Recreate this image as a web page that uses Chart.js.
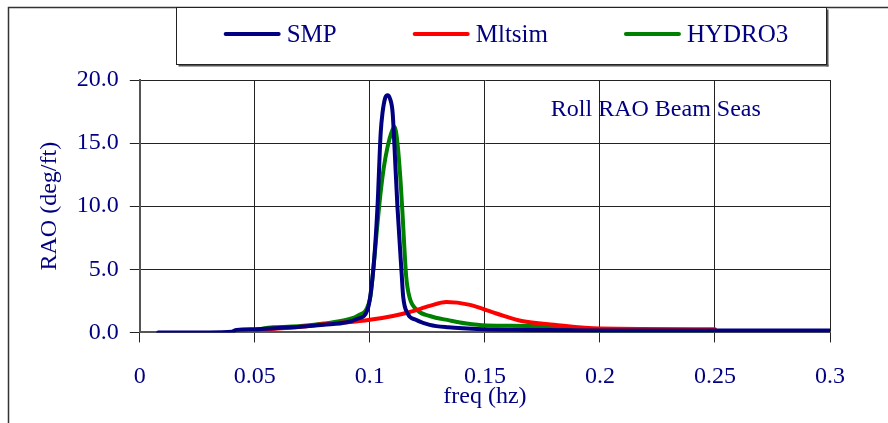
<!DOCTYPE html>
<html lang="en">
<head>
    <meta charset="UTF-8">
    <title>Roll RAO Beam Seas</title>
    <style>
        body {
            margin: 0;
            padding: 0;
            background: #fff;
        }
        canvas {
            display: block;
        }
    </style>
</head>
<body>
    <canvas id="raoChart" width="888" height="423"></canvas>

    <script src="https://cdn.jsdelivr.net/npm/chart.js"></script>
    <script>
        // Data (freq in hz, RAO in deg/ft)
        const seriesNames = ['SMP', 'Mltsim', 'HYDRO3'];

        const freqSMP = [0.008, 0.02, 0.03, 0.04, 0.042, 0.05, 0.06, 0.07, 0.08, 0.09, 0.095, 0.099,
            0.1016, 0.1033, 0.1047, 0.1055, 0.1067, 0.1077, 0.1088, 0.1099, 0.1107, 0.112,
            0.1138, 0.1145, 0.1164, 0.12, 0.126, 0.134, 0.149, 0.17, 0.2, 0.25, 0.3];
        const raoSMP = [0, 0, 0, 0.05, 0.2, 0.25, 0.35, 0.45, 0.6, 0.8, 1.1, 1.8,
            5.2, 9.9, 15.8, 17.4, 18.6, 18.8, 18.5, 17.4, 14.7, 9.9,
            4.7, 2.8, 1.5, 1.0, 0.6, 0.4, 0.25, 0.2, 0.15, 0.15, 0.15];

        const freqMltsim = [0.05, 0.06, 0.07, 0.0825, 0.09, 0.1, 0.11, 0.117, 0.1225, 0.126, 0.1333,
            0.143, 0.155, 0.166, 0.18, 0.2, 0.25];
        const raoMltsim = [0.2, 0.3, 0.45, 0.7, 0.8, 1.0, 1.3, 1.6, 1.9, 2.1, 2.4,
            2.2, 1.5, 0.9, 0.6, 0.3, 0.25];

        const freqHydro3 = [0.05, 0.058, 0.07, 0.08, 0.09, 0.095, 0.1, 0.1015, 0.103, 0.1045, 0.106,
            0.1077, 0.1093, 0.1107, 0.112, 0.1133, 0.1142, 0.115, 0.1158, 0.1172, 0.1207, 0.126,
            0.1346, 0.142, 0.1507, 0.1706, 0.1854, 0.2, 0.25];
        const raoHydro3 = [0.2, 0.4, 0.5, 0.7, 1.0, 1.35, 2.6, 5.0, 8.0, 10.8, 13.0,
            14.7, 15.8, 16.3, 15.0, 12.1, 9.4, 6.7, 4.4, 2.8, 1.75, 1.3,
            0.95, 0.7, 0.55, 0.5, 0.3, 0.15, 0.15];

        const xTickLabels = ['0', '0.05', '0.1', '0.15', '0.2', '0.25', '0.3'];
        const yTickLabels = ['0.0', '5.0', '10.0', '15.0', '20.0'];

        const navy = '#000080';
        const fontFamily = '"Liberation Serif", "Times New Roman", serif';

        function toPoints(xs, ys) {
            return xs.map((x, i) => ({ x: x, y: ys[i] }));
        }

        // frame round the whole chart, legend box and the note inside the plot
        const decorations = {
            id: 'decorations',
            beforeDraw(chart) {
                const ctx = chart.ctx;
                ctx.save();
                ctx.fillStyle = '#fff';
                ctx.fillRect(0, 0, chart.width, chart.height);
                ctx.strokeStyle = '#333';
                ctx.lineWidth = 1.5;
                ctx.beginPath();
                ctx.moveTo(8.5, chart.height);
                ctx.lineTo(8.5, 7.5);
                ctx.lineTo(chart.width, 7.5);
                ctx.stroke();
                ctx.restore();
            },
            afterDraw(chart) {
                const ctx = chart.ctx;
                const area = chart.chartArea;
                ctx.save();

                // legend box with a small shadow
                const bx = 176.5, by = 7.5, bw = 650, bh = 57;
                ctx.fillStyle = '#555';
                ctx.fillRect(bx + 2, by + bh, bw, 2);
                ctx.fillRect(bx + bw, by + 2, 2, bh);
                ctx.fillStyle = '#fff';
                ctx.fillRect(bx, by, bw, bh);
                ctx.strokeStyle = '#222';
                ctx.lineWidth = 1;
                ctx.strokeRect(bx, by, bw, bh);

                ctx.font = '25px ' + fontFamily;
                ctx.textBaseline = 'middle';
                ctx.textAlign = 'left';
                const swatch = 57, gapText = 6, gapItem = 76;
                const widths = chart.data.datasets.map(ds => swatch + gapText + ctx.measureText(ds.label).width);
                const total = widths.reduce((a, b) => a + b, 0) + gapItem * (widths.length - 1);
                let x = 506 - total / 2;
                const ly = 34;
                chart.data.datasets.forEach((ds, i) => {
                    ctx.strokeStyle = ds.borderColor;
                    ctx.lineWidth = 4;
                    ctx.lineCap = 'round';
                    ctx.beginPath();
                    ctx.moveTo(x + 2, ly);
                    ctx.lineTo(x + swatch - 2, ly);
                    ctx.stroke();
                    ctx.fillStyle = navy;
                    ctx.fillText(ds.label, x + swatch + gapText, ly + 1);
                    x += widths[i] + gapItem;
                });

                // note inside the plot
                ctx.font = '24px ' + fontFamily;
                ctx.fillStyle = navy;
                ctx.fillText('Roll RAO Beam Seas', area.left + 411, area.top + 30);
                ctx.restore();
            }
        };

        const ctx = document.getElementById('raoChart').getContext('2d');
        const raoChart = new Chart(ctx, {
            type: 'line',
            data: {
                datasets: [
                    { label: seriesNames[0], data: toPoints(freqSMP, raoSMP), borderColor: navy },
                    { label: seriesNames[1], data: toPoints(freqMltsim, raoMltsim), borderColor: '#ff0000' },
                    { label: seriesNames[2], data: toPoints(freqHydro3, raoHydro3), borderColor: '#008000' }
                ].map(ds => Object.assign(ds, {
                    borderWidth: 4,
                    pointRadius: 0,
                    fill: false,
                    cubicInterpolationMode: 'monotone',
                    borderCapStyle: 'round',
                    borderJoinStyle: 'round'
                }))
            },
            options: {
                responsive: false,
                animation: false,
                devicePixelRatio: 1,
                layout: {
                    padding: { left: 35, right: 58, top: 80, bottom: 12 }
                },
                plugins: {
                    legend: { display: false },
                    tooltip: { enabled: false }
                },
                scales: {
                    x: {
                        type: 'linear',
                        min: 0,
                        max: 0.3,
                        ticks: {
                            stepSize: 0.05,
                            color: navy,
                            font: { family: fontFamily, size: 24 },
                            padding: 20,
                            maxRotation: 0,
                            callback: (v, i) => xTickLabels[i]
                        },
                        grid: { color: '#222', tickColor: '#222', tickLength: 10, lineWidth: 1 },
                        border: { color: '#555', width: 2 },
                        title: {
                            display: true,
                            text: 'freq (hz)',
                            color: navy,
                            font: { family: fontFamily, size: 24 },
                            padding: { top: -29, bottom: 0 }
                        }
                    },
                    y: {
                        min: 0,
                        max: 20,
                        ticks: {
                            stepSize: 5,
                            color: navy,
                            font: { family: fontFamily, size: 24 },
                            padding: 11,
                            callback: (v, i) => yTickLabels[i]
                        },
                        grid: { color: '#222', tickColor: '#222', tickLength: 10, lineWidth: 1 },
                        border: { color: '#555', width: 2 },
                        title: {
                            display: true,
                            text: 'RAO (deg/ft)',
                            color: navy,
                            font: { family: fontFamily, size: 24 },
                            padding: { top: 0, bottom: 2 }
                        }
                    }
                }
            },
            plugins: [decorations]
        });
    </script>
</body>
</html>
